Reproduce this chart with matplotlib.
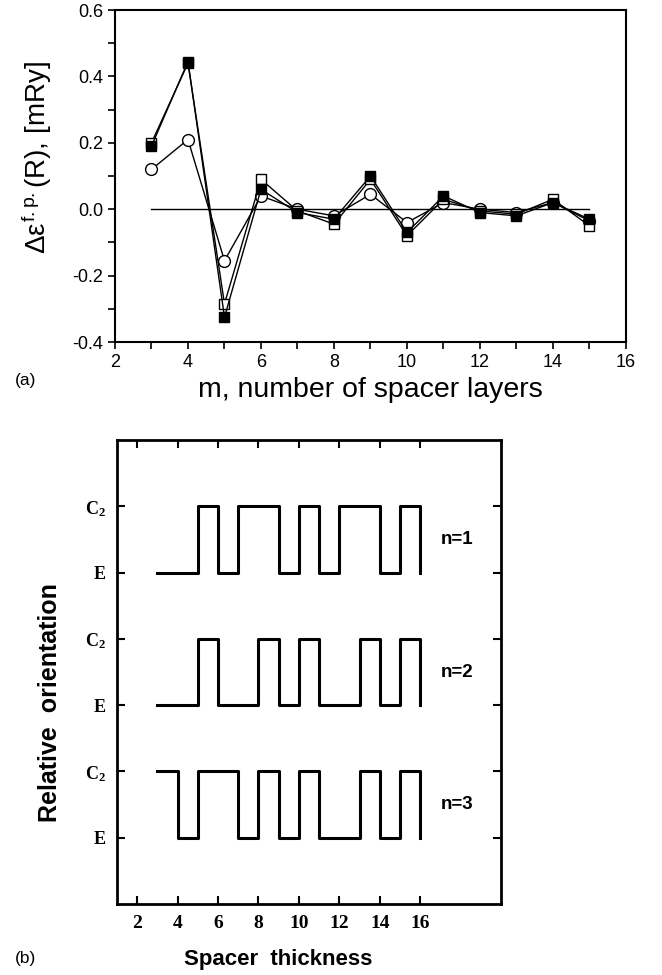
import numpy as np
import matplotlib
matplotlib.use("Agg")
import matplotlib.pyplot as plt
from matplotlib.ticker import MultipleLocator

plt.rcParams['font.family'] = ['Liberation Sans', 'DejaVu Sans']
plt.rcParams['mathtext.fontset'] = 'custom'
plt.rcParams['mathtext.rm'] = 'Liberation Sans'
plt.rcParams['mathtext.it'] = 'Liberation Sans'
plt.rcParams['mathtext.bf'] = 'Liberation Serif:bold'

# panel (a): energy difference vs number of spacer layers
m_layers = [3, 4, 5, 6, 7, 8, 9, 10, 11, 12, 13, 14, 15]
de_filled = [0.19, 0.445, -0.325, 0.06, -0.01, -0.03, 0.10, -0.07, 0.04, -0.01, -0.02, 0.02, -0.03]
de_open = [0.20, 0.44, -0.285, 0.09, -0.005, -0.045, 0.09, -0.08, 0.03, -0.005, -0.015, 0.03, -0.05]
de_circle = [0.12, 0.21, -0.155, 0.04, 0.0, -0.02, 0.045, -0.04, 0.02, 0.0, -0.01, 0.02, -0.035]

# panel (b): relative orientation, 0 = E, 1 = C2
thickness = [3, 4, 5, 6, 7, 8, 9, 10, 11, 12, 13, 14, 15, 16]
orient_n1 = [0, 0, 1, 0, 1, 1, 0, 1, 0, 1, 1, 0, 1, 0]
orient_n2 = [0, 0, 1, 0, 0, 1, 0, 1, 0, 0, 1, 0, 1, 0]
orient_n3 = [1, 0, 1, 1, 0, 1, 0, 1, 0, 0, 1, 0, 1, 0]
curve_labels = ["n=1", "n=2", "n=3"]

fig = plt.figure(figsize=(6.62, 9.75), dpi=100)

#----- panel (a) -----
ax1 = fig.add_axes([0.1737, 0.6492, 0.7719, 0.3405])
ax1.plot([3, 15], [0, 0], color='black', lw=1.0, zorder=1)
ax1.plot(m_layers, de_circle, '-o', color='black', lw=1.0, ms=8.5,
         mfc='white', mec='black', mew=1.0, zorder=2)
ax1.plot(m_layers, de_open, '-s', color='black', lw=1.0, ms=7,
         mfc='white', mec='black', mew=1.0, zorder=3)
ax1.plot(m_layers, de_filled, '-s', color='black', lw=1.0, ms=7,
         mfc='black', mec='black', mew=1.0, zorder=4)
ax1.set_xlim(2, 16)
ax1.set_ylim(-0.4, 0.6)
ax1.xaxis.set_major_locator(MultipleLocator(2))
ax1.xaxis.set_minor_locator(MultipleLocator(1))
ax1.yaxis.set_major_locator(MultipleLocator(0.2))
ax1.yaxis.set_minor_locator(MultipleLocator(0.1))
ax1.yaxis.set_major_formatter(matplotlib.ticker.FormatStrFormatter('%.1f'))
ax1.tick_params(which='both', direction='out', length=5, width=1.2, labelsize=13)
for s in ax1.spines.values():
    s.set_linewidth(1.5)
ax1.set_xlabel("m, number of spacer layers", fontsize=20.5)
ax1.xaxis.set_label_coords(0.5, -0.105)
ax1.set_ylabel(r"$\Delta\varepsilon^{\mathrm{f.p.}}$(R), [mRy]", fontsize=20)
ax1.yaxis.set_label_coords(-0.12, 0.554)
fig.text(0.023, 0.610, "(a)", fontsize=12.5, va='center')

#----- panel (b) -----
ax2 = fig.add_axes([0.1767, 0.0728, 0.5801, 0.4759])
offsets = [4, 2, 0]
for orient, off, lab in zip([orient_n1, orient_n2, orient_n3], offsets, curve_labels):
    ax2.step(thickness, np.array(orient) + 1 + off, where='post', color='black', lw=2.2)
    ax2.text(17.0, 1.5 + off, lab, fontsize=13.5, fontweight='bold', va='center', ha='left')
ax2.set_xlim(1, 20)
ax2.set_ylim(0, 7)
ax2.set_xticks(range(2, 17, 2))
ax2.set_xticklabels([str(v) for v in range(2, 17, 2)], family='Liberation Serif',
                    fontweight='bold', fontsize=14)
ax2.set_yticks([1, 2, 3, 4, 5, 6])
ax2.set_yticklabels(['E', r'$\mathbf{C_2}$', 'E', r'$\mathbf{C_2}$', 'E', r'$\mathbf{C_2}$'],
                    family='Liberation Serif', fontweight='bold', fontsize=13)
ax2.tick_params(which='both', direction='in', length=6, width=1.5,
                top=True, right=True, pad=8)
for s in ax2.spines.values():
    s.set_linewidth(2.0)
ax2.set_xlabel("Spacer  thickness", fontsize=16, fontweight='bold')
ax2.xaxis.set_label_coords(0.421, -0.098)
ax2.set_ylabel("Relative  orientation", fontsize=18, fontweight='bold')
ax2.yaxis.set_label_coords(-0.142, 0.435)
fig.text(0.023, 0.017, "(b)", fontsize=12.5, va='center')

fig.savefig("out.png", dpi=100)
